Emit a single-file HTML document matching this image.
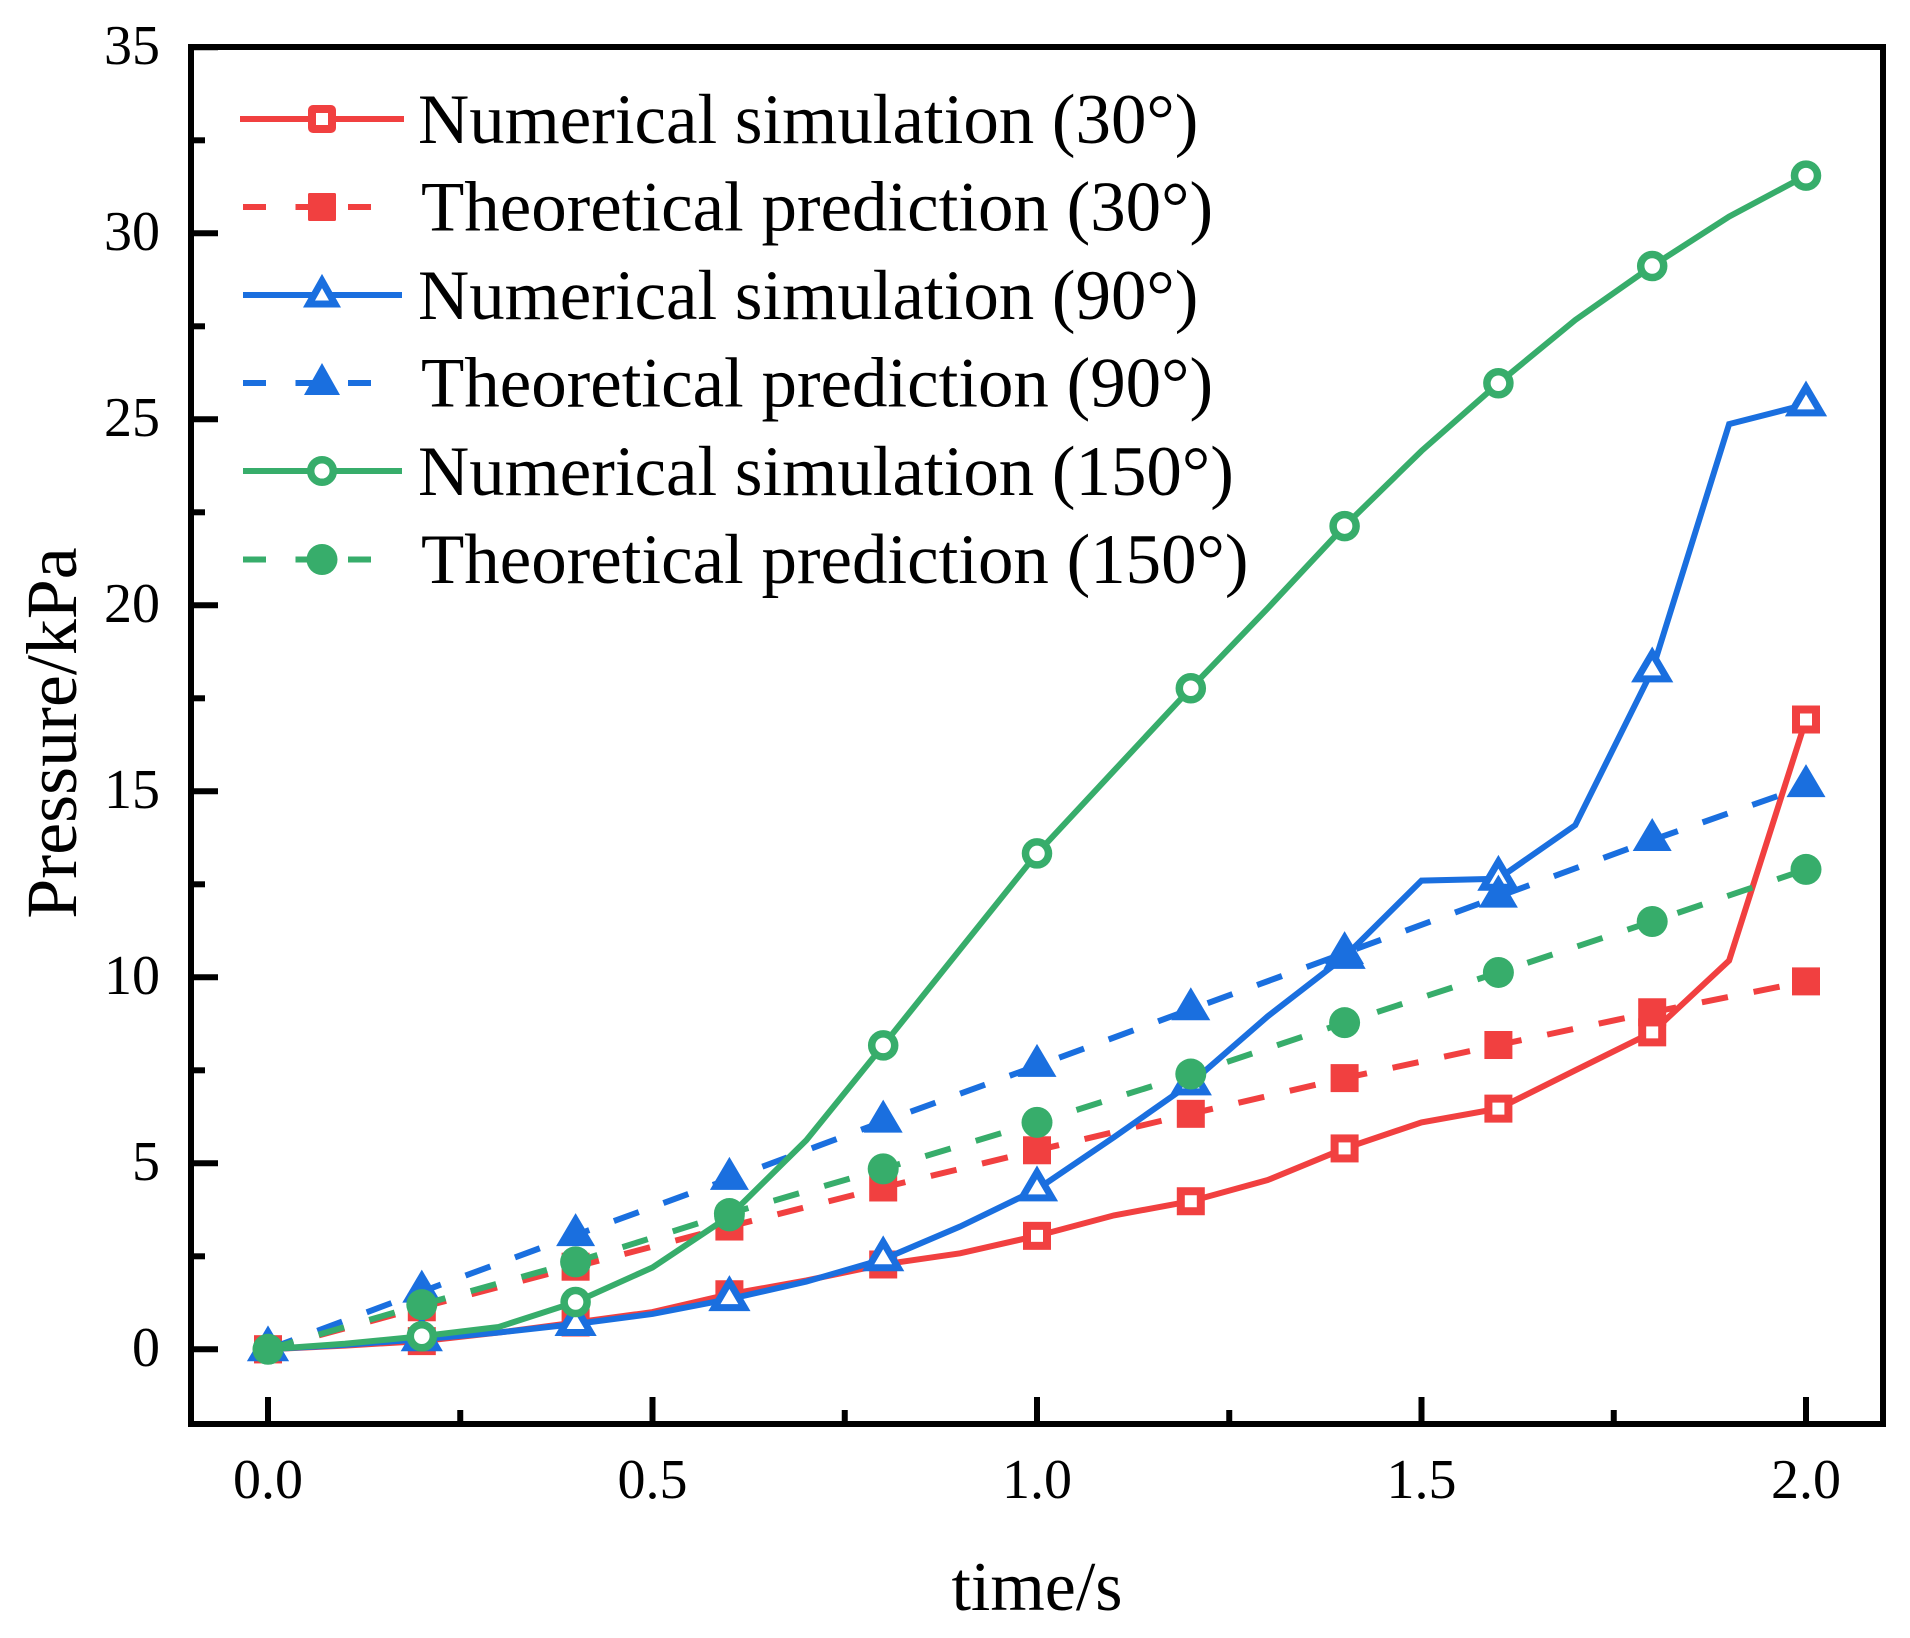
<!DOCTYPE html>
<html lang="en">
<head>
<meta charset="utf-8">
<title>Pressure vs time</title>
<style>
html,body{margin:0;padding:0;background:#fff;}
svg{display:block;}
text{font-family:"Liberation Serif",serif;fill:#000;}
</style>
</head>
<body>
<svg id="chart" xmlns="http://www.w3.org/2000/svg" width="1910" height="1638" viewBox="0 0 1910 1638">
  <rect x="0" y="0" width="1910" height="1638" fill="#fff"/>
  <g id="marks"></g>
  <g id="axes"></g>
  <rect x="191" y="47" width="1692" height="1377" fill="none" stroke="#000" stroke-width="6"/>
  <text x="1037" y="1610" font-size="70" text-anchor="middle">time/s</text>
  <text transform="translate(76 733) rotate(-90)" font-size="71.9" text-anchor="middle">Pressure/kPa</text>
  <g>
    <g>
      <line x1="240" y1="119" x2="404" y2="119" stroke="#F14040" stroke-width="6"/>
      <rect x="312" y="109" width="20" height="20" rx="1" fill="#fff" stroke="#F14040" stroke-width="8"/>
      <text x="418" y="143" font-size="70.9">Numerical simulation (30°)</text>
    </g>
    <g>
      <line x1="243" y1="207" x2="372" y2="207" stroke="#F14040" stroke-width="6" stroke-dasharray="23 29.5"/>
      <rect x="308" y="193" width="28" height="28" rx="1.5" fill="#F14040"/>
      <text x="421" y="230.5" font-size="70.9">Theoretical prediction (30°)</text>
    </g>
    <g>
      <line x1="243" y1="295" x2="402" y2="295" stroke="#1A6FDF" stroke-width="6"/>
      <polygon points="322,281 335,304 309,304" fill="#fff" stroke="#1A6FDF" stroke-width="7"/>
      <text x="418" y="319" font-size="70.9">Numerical simulation (90°)</text>
    </g>
    <g>
      <line x1="243" y1="383" x2="372" y2="383" stroke="#1A6FDF" stroke-width="6" stroke-dasharray="23 29.5"/>
      <polygon points="322,363 340,395 304,395" fill="#1A6FDF"/>
      <text x="421" y="406.5" font-size="70.9">Theoretical prediction (90°)</text>
    </g>
    <g>
      <line x1="243" y1="471" x2="402" y2="471" stroke="#37AD6B" stroke-width="6"/>
      <circle cx="322" cy="471" r="11.3" fill="#fff" stroke="#37AD6B" stroke-width="7.5"/>
      <text x="418" y="495" font-size="70.9">Numerical simulation (150°)</text>
    </g>
    <g>
      <line x1="243" y1="559.5" x2="372" y2="559.5" stroke="#37AD6B" stroke-width="6" stroke-dasharray="23 29.5"/>
      <circle cx="322" cy="559.5" r="15.5" fill="#37AD6B"/>
      <text x="421" y="583" font-size="70.9">Theoretical prediction (150°)</text>
    </g>
  </g>
</svg>
<script>
const numericalTimes = [0,0.1,0.2,0.3,0.4,0.5,0.6,0.7,0.8,0.9,1.0,1.1,1.2,1.3,1.4,1.5,1.6,1.7,1.8,1.9,2.0];
const theoreticalTimes = [0,0.2,0.4,0.6,0.8,1.0,1.2,1.4,1.6,1.8,2.0];
const numerical30 = [0,0.1,0.22,0.45,0.72,1.0,1.48,1.85,2.28,2.58,3.05,3.6,3.98,4.55,5.4,6.1,6.47,7.5,8.52,10.45,16.93];
const theoretical30 = [0,1.13,2.22,3.3,4.35,5.35,6.33,7.29,8.18,9.06,9.89];
const numerical90 = [0,0.12,0.27,0.45,0.68,0.95,1.35,1.82,2.42,3.3,4.3,5.7,7.15,8.95,10.55,12.6,12.65,14.09,18.25,24.87,25.4];
const theoretical90 = [0,1.55,3.07,4.58,6.12,7.62,9.14,10.65,12.17,13.69,15.14];
const numerical150 = [0,0.15,0.35,0.6,1.27,2.2,3.58,5.62,8.17,10.75,13.33,15.55,17.77,19.92,22.13,24.15,25.97,27.67,29.12,30.45,31.55];
const theoretical150 = [0,1.2,2.35,3.65,4.85,6.1,7.4,8.78,10.13,11.5,12.9];
const xMajorTicks = [0,0.5,1.0,1.5,2.0];
const xTickLabels = ["0.0","0.5","1.0","1.5","2.0"];
const xMinorTicks = [0.25,0.75,1.25,1.75];
const yMajorTicks = [0,5,10,15,20,25,30,35];
const yTickLabels = ["0","5","10","15","20","25","30","35"];
const yMinorTicks = [2.5,7.5,12.5,17.5,22.5,27.5,32.5];

const SVGNS = "http://www.w3.org/2000/svg";
const RED = "#F14040", BLUE = "#1A6FDF", GREEN = "#37AD6B";
function xScale(t){ return 268 + (t - 0) * 769; }
function yScale(v){ return 1349.3 - v * 37.2; }
function make(tag, attrs){
  const el = document.createElementNS(SVGNS, tag);
  for (const k in attrs) el.setAttribute(k, attrs[k]);
  return el;
}
const axes = document.getElementById("axes");
const marks = document.getElementById("marks");

xMajorTicks.forEach(function(t, i){
  const tick = make("line", {x1:xScale(t), x2:xScale(t), y1:1424, y2:1397, stroke:"#000", "stroke-width":6});
  
  
  axes.appendChild(tick);
  const label = make("text", {x:xScale(t), y:1498, "font-size":56, "text-anchor":"middle"});
  
  
  label.textContent = xTickLabels[i];
  axes.appendChild(label);
});
xMinorTicks.forEach(function(t){
  const tick = make("line", {x1:xScale(t), x2:xScale(t), y1:1424, y2:1410, stroke:"#000", "stroke-width":6});
  
  
  axes.appendChild(tick);
});
yMajorTicks.forEach(function(v, i){
  const tick = make("line", {x1:191, x2:218, y1:yScale(v), y2:yScale(v), stroke:"#000", "stroke-width":6});
  
  
  axes.appendChild(tick);
  const label = make("text", {x:160, y:yScale(v)+16.5, "font-size":56, "text-anchor":"end"});
  
  
  label.textContent = yTickLabels[i];
  axes.appendChild(label);
});
yMinorTicks.forEach(function(v){
  const tick = make("line", {x1:191, x2:205, y1:yScale(v), y2:yScale(v), stroke:"#000", "stroke-width":6});
  
  
  axes.appendChild(tick);
});

function marker(kind, filled, color, cx, cy){
  let el;
  if (kind === "square") {
    el = filled ? make("rect", {x:cx-14, y:cy-14, width:28, height:28, fill:color})
                : make("rect", {x:cx-10, y:cy-10, width:20, height:20, fill:"#fff", stroke:color, "stroke-width":8});
  } else if (kind === "triangle") {
    el = filled ? make("polygon", {points:(cx)+","+(cy-22)+" "+(cx+19.5)+","+(cy+11)+" "+(cx-19.5)+","+(cy+11), fill:color})
                : make("polygon", {points:(cx)+","+(cy-17)+" "+(cx+15)+","+(cy+8.5)+" "+(cx-15)+","+(cy+8.5), fill:"#fff", stroke:color, "stroke-width":7});
  } else {
    el = filled ? make("circle", {cx:cx, cy:cy, r:15.5, fill:color})
                : make("circle", {cx:cx, cy:cy, r:11.5, fill:"#fff", stroke:color, "stroke-width":7.5});
  }
  return el;
}
function drawNumerical(times, values, color, kind, name){
  const line = make("polyline", {
    points: times.map(function(t,i){ return xScale(t)+","+yScale(values[i]); }).join(" "),
    fill:"none", stroke:color, "stroke-width":6, "stroke-linejoin":"miter"
  });
  
  
  marks.appendChild(line);
  times.forEach(function(t,i){
    if (i % 2 !== 0) return;
    const m = marker(kind, false, color, xScale(t), yScale(values[i]));
    
    
    marks.appendChild(m);
  });
}
function drawTheoretical(times, values, color, kind, name){
  const line = make("polyline", {
    points: times.map(function(t,i){ return xScale(t)+","+yScale(values[i]); }).join(" "),
    fill:"none", stroke:color, "stroke-width":6, "stroke-dasharray":"26.5 26.2"
  });
  
  
  marks.appendChild(line);
  times.forEach(function(t,i){
    const m = marker(kind, true, color, xScale(t), yScale(values[i]));
    
    
    marks.appendChild(m);
  });
}
drawNumerical(numericalTimes, numerical30, RED, "square", "numerical-30");
drawTheoretical(theoreticalTimes, theoretical30, RED, "square", "theoretical-30");
drawNumerical(numericalTimes, numerical90, BLUE, "triangle", "numerical-90");
drawTheoretical(theoreticalTimes, theoretical90, BLUE, "triangle", "theoretical-90");
drawNumerical(numericalTimes, numerical150, GREEN, "circle", "numerical-150");
drawTheoretical(theoreticalTimes, theoretical150, GREEN, "circle", "theoretical-150");
</script>
</body>
</html>
